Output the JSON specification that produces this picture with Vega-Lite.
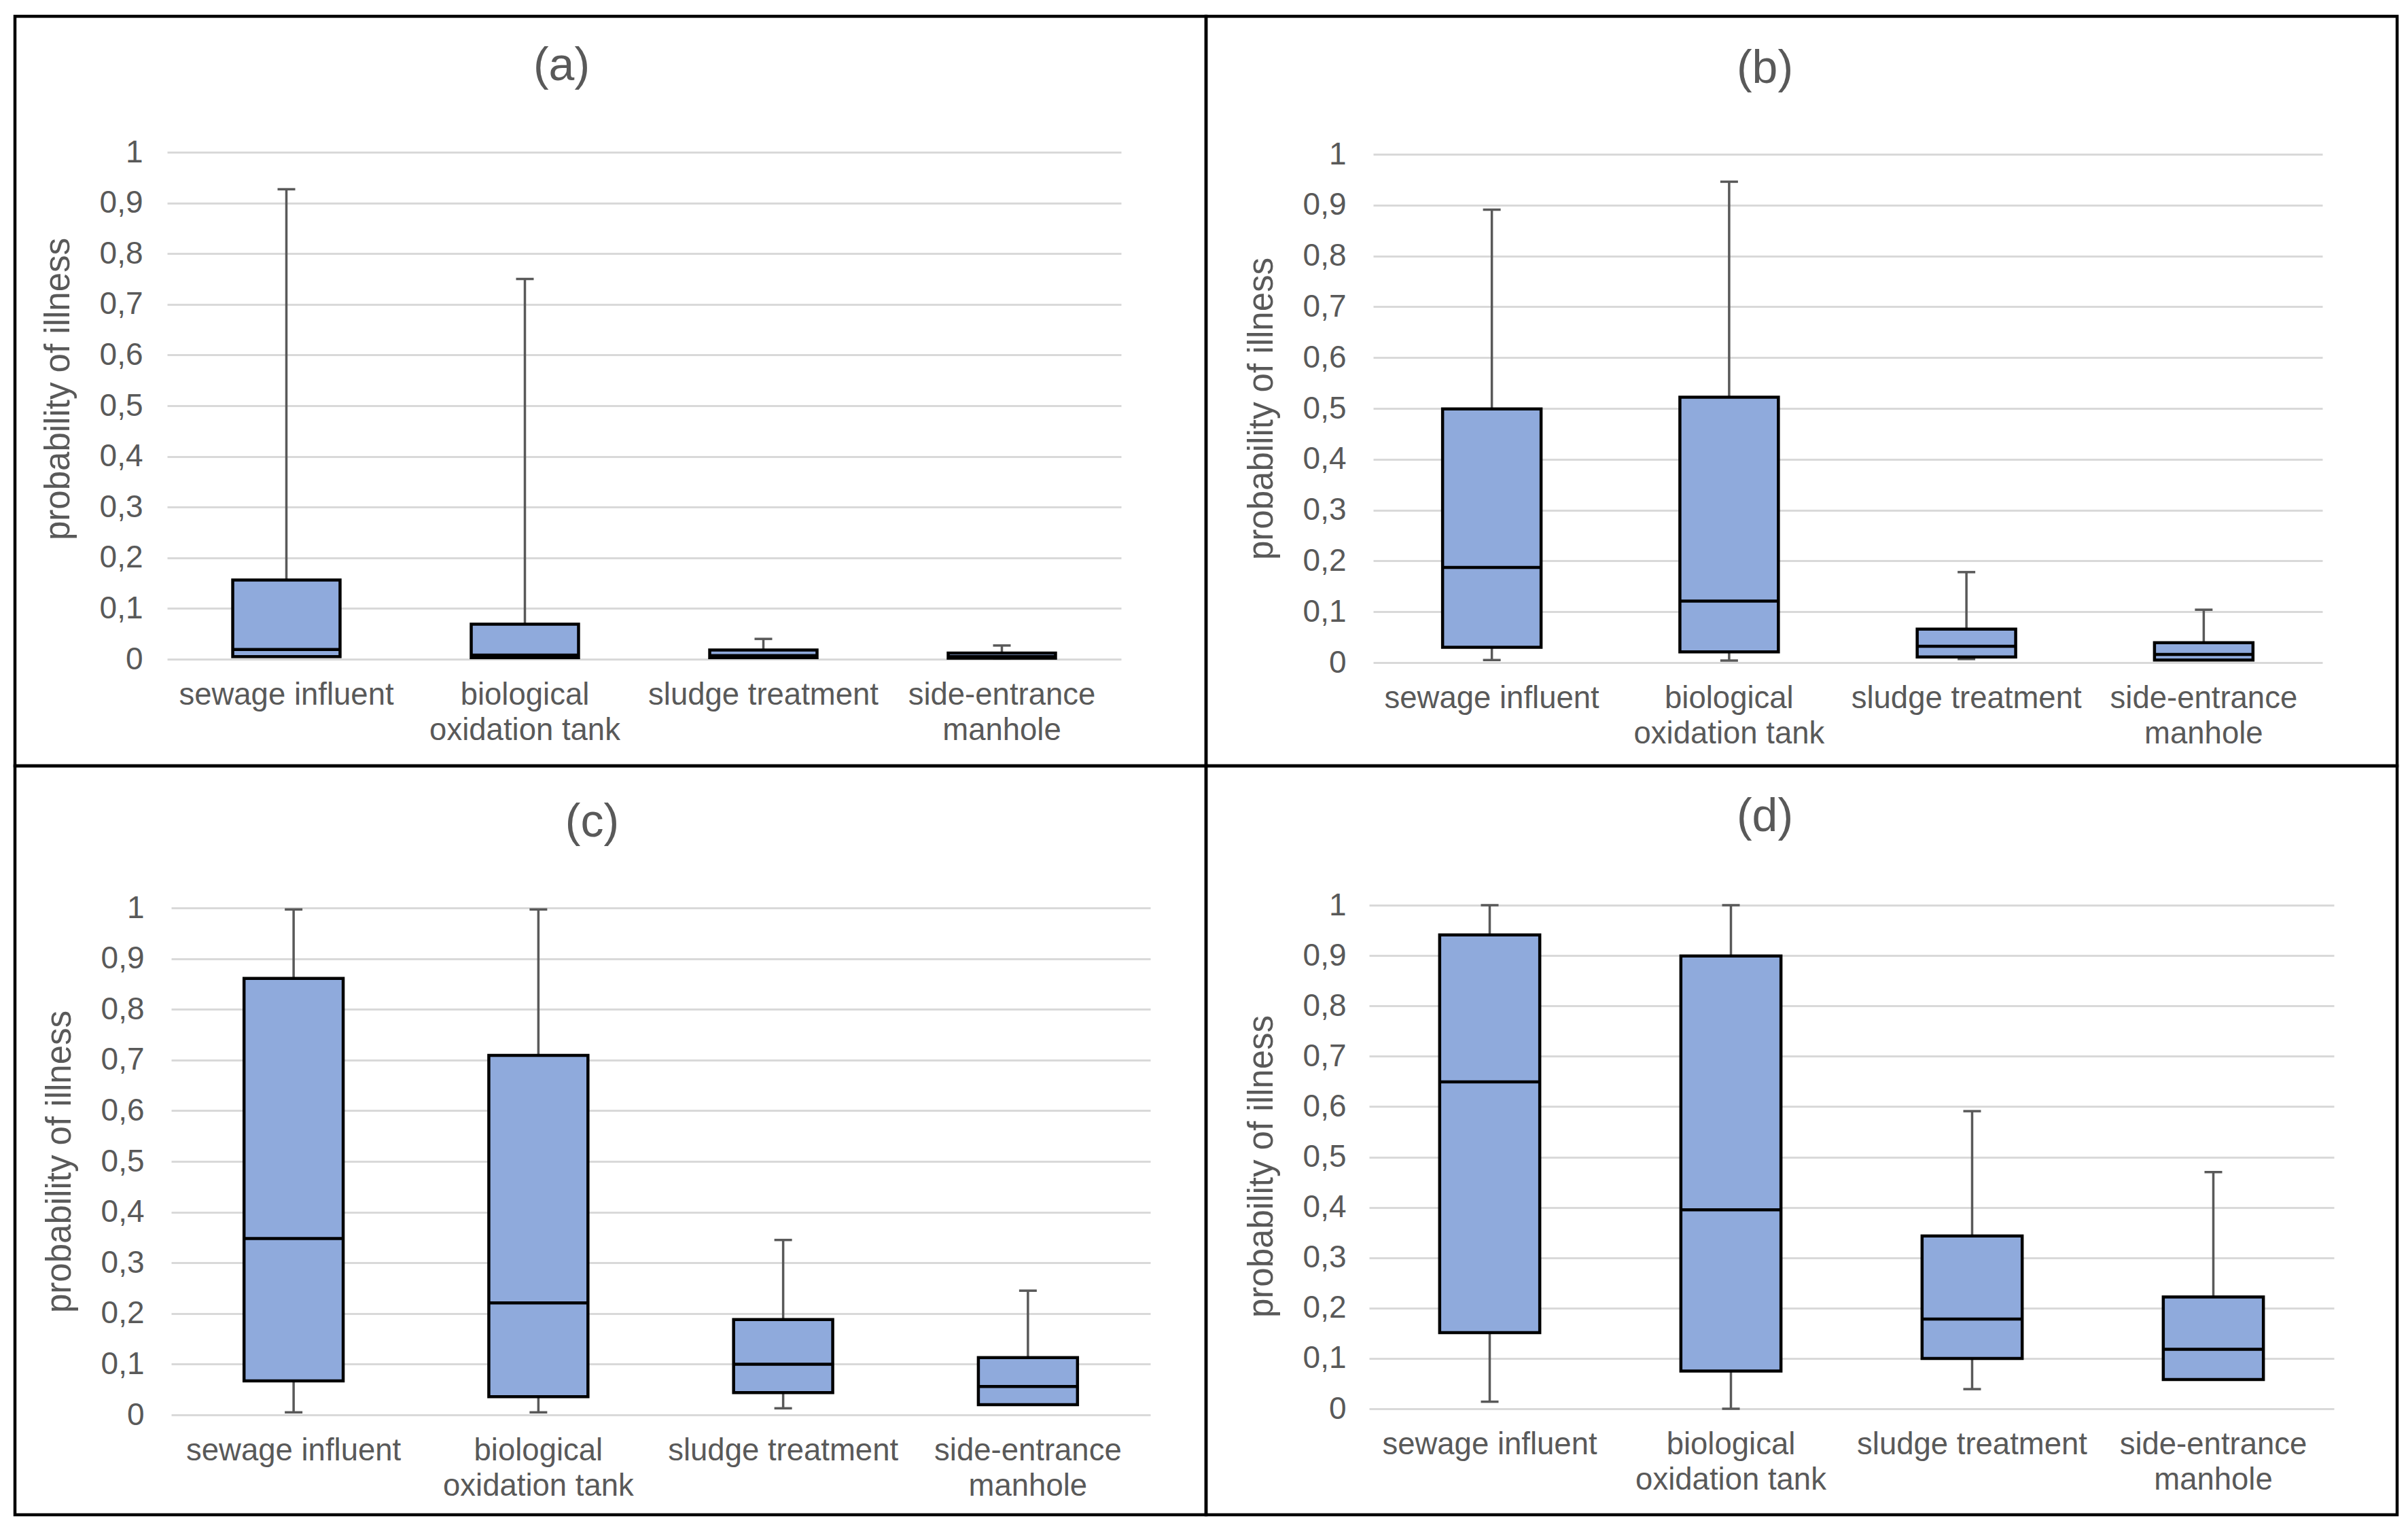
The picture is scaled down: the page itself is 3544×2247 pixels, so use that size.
{
  "$schema": "https://vega.github.io/schema/vega-lite/v6.json",
  "background": "white",
  "padding": {"left": 19, "top": 21, "right": 19, "bottom": 21},
  "config": {
    "font": "Liberation Sans",
    "view": {"stroke": "black", "strokeWidth": 4.5},
    "axisY": {"domain": false, "ticks": false, "tickSize": 0, "grid": true, "gridColor": "#d9d9d9", "gridWidth": 3, "labelFontSize": 46, "labelColor": "#595959", "labelPadding": 40, "labelFont": "Liberation Sans", "titleFontSize": 51, "titleColor": "#595959", "titleFontWeight": "normal", "titleFont": "Liberation Sans", "titlePadding": 34},
    "axisX": {"domain": false, "ticks": false, "tickSize": 0, "grid": false, "labelFontSize": 45.5, "labelColor": "#595959", "labelFont": "Liberation Sans", "labelPadding": 30, "labelAngle": 0, "labelLimit": 0, "labelLineHeight": 52, "labelOverlap": false},
    "title": {"fontSize": 68, "color": "#595959", "fontWeight": "normal", "font": "Liberation Sans", "frame": "group", "baseline": "middle"}
  },
  "datasets": {
    "stats": [
      {"panel": "a", "location": "sewage influent", "min": 0.005, "q1": 0.005, "median": 0.019, "q3": 0.156, "max": 0.927},
      {"panel": "a", "location": "biological oxidation tank", "min": 0.003, "q1": 0.003, "median": 0.008, "q3": 0.069, "max": 0.75},
      {"panel": "a", "location": "sludge treatment", "min": 0.003, "q1": 0.003, "median": 0.007, "q3": 0.018, "max": 0.04},
      {"panel": "a", "location": "side-entrance manhole", "min": 0.002, "q1": 0.002, "median": 0.005, "q3": 0.012, "max": 0.027},
      {"panel": "b", "location": "sewage influent", "min": 0.005, "q1": 0.03, "median": 0.187, "q3": 0.499, "max": 0.891},
      {"panel": "b", "location": "biological oxidation tank", "min": 0.004, "q1": 0.021, "median": 0.121, "q3": 0.522, "max": 0.946},
      {"panel": "b", "location": "sludge treatment", "min": 0.007, "q1": 0.011, "median": 0.032, "q3": 0.066, "max": 0.178},
      {"panel": "b", "location": "side-entrance manhole", "min": 0.005, "q1": 0.005, "median": 0.016, "q3": 0.039, "max": 0.104},
      {"panel": "c", "location": "sewage influent", "min": 0.005, "q1": 0.067, "median": 0.348, "q3": 0.861, "max": 0.997},
      {"panel": "c", "location": "biological oxidation tank", "min": 0.005, "q1": 0.036, "median": 0.221, "q3": 0.709, "max": 0.997},
      {"panel": "c", "location": "sludge treatment", "min": 0.013, "q1": 0.044, "median": 0.1, "q3": 0.188, "max": 0.345},
      {"panel": "c", "location": "side-entrance manhole", "min": 0.02, "q1": 0.02, "median": 0.056, "q3": 0.113, "max": 0.245},
      {"panel": "d", "location": "sewage influent", "min": 0.014, "q1": 0.151, "median": 0.649, "q3": 0.941, "max": 1.0},
      {"panel": "d", "location": "biological oxidation tank", "min": 0.0, "q1": 0.075, "median": 0.395, "q3": 0.899, "max": 1.0},
      {"panel": "d", "location": "sludge treatment", "min": 0.039, "q1": 0.1, "median": 0.178, "q3": 0.343, "max": 0.591},
      {"panel": "d", "location": "side-entrance manhole", "min": 0.058, "q1": 0.058, "median": 0.118, "q3": 0.222, "max": 0.47}
    ]
  },
  "columns": 2,
  "spacing": 0,
  "bounds": "flush",
  "concat": [
    {
      "width": 1753, "height": 1103,
      "title": {"text": "(a)", "dx": -72, "offset": -108},
      "data": {"name": "stats"},
      "transform": [{"filter": "datum.panel == 'a'"}],
      "encoding": {
        "x": {"field": "location", "type": "nominal", "sort": null, "title": null,
          "scale": {"domain": ["sewage influent", "biological oxidation tank", "sludge treatment", "side-entrance manhole"], "range": [224, 1628], "paddingInner": 0.55, "paddingOuter": 0.275},
          "axis": {"offset": -157, "labelExpr": "datum.value == 'biological oxidation tank' ? ['biological', 'oxidation tank'] : datum.value == 'side-entrance manhole' ? ['side-entrance', 'manhole'] : datum.value"}}
      },
      "layer": [
        {"mark": {"type": "rule", "color": "#595959", "strokeWidth": 3.5},
         "encoding": {"y": {"field": "q3", "type": "quantitative", "title": "probability of illness", "scale": {"domain": [0, 1], "range": [946, 200], "nice": false, "zero": false},
           "axis": {"offset": -228, "titleY": 548, "values": [0, 0.1, 0.2, 0.3, 0.4, 0.5, 0.6, 0.7, 0.8, 0.9, 1], "labelExpr": "replace(format(datum.value, '~g'), '.', ',')"}},
           "y2": {"field": "max"}}},
        {"mark": {"type": "rule", "color": "#595959", "strokeWidth": 3.5},
         "encoding": {"y": {"field": "min", "type": "quantitative", "title": "probability of illness", "scale": {"domain": [0, 1], "range": [946, 200], "nice": false, "zero": false}}, "y2": {"field": "q1"}}},
        {"mark": {"type": "tick", "orient": "horizontal", "color": "#595959", "size": 26, "thickness": 3.5, "opacity": 1},
         "encoding": {"y": {"field": "max", "type": "quantitative", "title": "probability of illness", "scale": {"domain": [0, 1], "range": [946, 200], "nice": false, "zero": false}}}},
        {"mark": {"type": "tick", "orient": "horizontal", "color": "#595959", "size": 26, "thickness": 3.5, "opacity": 1},
         "encoding": {"y": {"field": "min", "type": "quantitative", "title": "probability of illness", "scale": {"domain": [0, 1], "range": [946, 200], "nice": false, "zero": false}}}},
        {"mark": {"type": "bar", "fill": "#8FAADC", "stroke": "black", "strokeWidth": 4.5},
         "encoding": {"y": {"field": "q1", "type": "quantitative", "title": "probability of illness", "scale": {"domain": [0, 1], "range": [946, 200], "nice": false, "zero": false}}, "y2": {"field": "q3"}}},
        {"mark": {"type": "tick", "orient": "horizontal", "color": "black", "size": 158, "thickness": 4.5, "opacity": 1},
         "encoding": {"y": {"field": "median", "type": "quantitative", "title": "probability of illness", "scale": {"domain": [0, 1], "range": [946, 200], "nice": false, "zero": false}}}}
      ]
    },
    {
      "width": 1753, "height": 1103,
      "title": {"text": "(b)", "dx": -54, "offset": -112},
      "data": {"name": "stats"},
      "transform": [{"filter": "datum.panel == 'b'"}],
      "encoding": {
        "x": {"field": "location", "type": "nominal", "sort": null, "title": null,
          "scale": {"domain": ["sewage influent", "biological oxidation tank", "sludge treatment", "side-entrance manhole"], "range": [246, 1643], "paddingInner": 0.585, "paddingOuter": 0.2925},
          "axis": {"offset": -152, "labelExpr": "datum.value == 'biological oxidation tank' ? ['biological', 'oxidation tank'] : datum.value == 'side-entrance manhole' ? ['side-entrance', 'manhole'] : datum.value"}}
      },
      "layer": [
        {"mark": {"type": "rule", "color": "#595959", "strokeWidth": 3.5},
         "encoding": {"y": {"field": "q3", "type": "quantitative", "title": "probability of illness", "scale": {"domain": [0, 1], "range": [951, 203], "nice": false, "zero": false},
           "axis": {"offset": -246, "values": [0, 0.1, 0.2, 0.3, 0.4, 0.5, 0.6, 0.7, 0.8, 0.9, 1], "labelExpr": "replace(format(datum.value, '~g'), '.', ',')"}},
           "y2": {"field": "max"}}},
        {"mark": {"type": "rule", "color": "#595959", "strokeWidth": 3.5},
         "encoding": {"y": {"field": "min", "type": "quantitative", "title": "probability of illness", "scale": {"domain": [0, 1], "range": [951, 203], "nice": false, "zero": false}}, "y2": {"field": "q1"}}},
        {"mark": {"type": "tick", "orient": "horizontal", "color": "#595959", "size": 26, "thickness": 3.5, "opacity": 1},
         "encoding": {"y": {"field": "max", "type": "quantitative", "title": "probability of illness", "scale": {"domain": [0, 1], "range": [951, 203], "nice": false, "zero": false}}}},
        {"mark": {"type": "tick", "orient": "horizontal", "color": "#595959", "size": 26, "thickness": 3.5, "opacity": 1},
         "encoding": {"y": {"field": "min", "type": "quantitative", "title": "probability of illness", "scale": {"domain": [0, 1], "range": [951, 203], "nice": false, "zero": false}}}},
        {"mark": {"type": "bar", "fill": "#8FAADC", "stroke": "black", "strokeWidth": 4.5},
         "encoding": {"y": {"field": "q1", "type": "quantitative", "title": "probability of illness", "scale": {"domain": [0, 1], "range": [951, 203], "nice": false, "zero": false}}, "y2": {"field": "q3"}}},
        {"mark": {"type": "tick", "orient": "horizontal", "color": "black", "size": 145, "thickness": 4.5, "opacity": 1},
         "encoding": {"y": {"field": "median", "type": "quantitative", "title": "probability of illness", "scale": {"domain": [0, 1], "range": [951, 203], "nice": false, "zero": false}}}}
      ]
    },
    {
      "width": 1753, "height": 1102,
      "title": {"text": "(c)", "dx": -27, "offset": -118},
      "data": {"name": "stats"},
      "transform": [{"filter": "datum.panel == 'c'"}],
      "encoding": {
        "x": {"field": "location", "type": "nominal", "sort": null, "title": null,
          "scale": {"domain": ["sewage influent", "biological oxidation tank", "sludge treatment", "side-entrance manhole"], "range": [230, 1671], "paddingInner": 0.595, "paddingOuter": 0.2975},
          "axis": {"offset": -147, "labelExpr": "datum.value == 'biological oxidation tank' ? ['biological', 'oxidation tank'] : datum.value == 'side-entrance manhole' ? ['side-entrance', 'manhole'] : datum.value"}}
      },
      "layer": [
        {"mark": {"type": "rule", "color": "#595959", "strokeWidth": 3.5},
         "encoding": {"y": {"field": "q3", "type": "quantitative", "title": "probability of illness", "scale": {"domain": [0, 1], "range": [955, 209], "nice": false, "zero": false},
           "axis": {"offset": -230, "values": [0, 0.1, 0.2, 0.3, 0.4, 0.5, 0.6, 0.7, 0.8, 0.9, 1], "labelExpr": "replace(format(datum.value, '~g'), '.', ',')"}},
           "y2": {"field": "max"}}},
        {"mark": {"type": "rule", "color": "#595959", "strokeWidth": 3.5},
         "encoding": {"y": {"field": "min", "type": "quantitative", "title": "probability of illness", "scale": {"domain": [0, 1], "range": [955, 209], "nice": false, "zero": false}}, "y2": {"field": "q1"}}},
        {"mark": {"type": "tick", "orient": "horizontal", "color": "#595959", "size": 26, "thickness": 3.5, "opacity": 1},
         "encoding": {"y": {"field": "max", "type": "quantitative", "title": "probability of illness", "scale": {"domain": [0, 1], "range": [955, 209], "nice": false, "zero": false}}}},
        {"mark": {"type": "tick", "orient": "horizontal", "color": "#595959", "size": 26, "thickness": 3.5, "opacity": 1},
         "encoding": {"y": {"field": "min", "type": "quantitative", "title": "probability of illness", "scale": {"domain": [0, 1], "range": [955, 209], "nice": false, "zero": false}}}},
        {"mark": {"type": "bar", "fill": "#8FAADC", "stroke": "black", "strokeWidth": 4.5},
         "encoding": {"y": {"field": "q1", "type": "quantitative", "title": "probability of illness", "scale": {"domain": [0, 1], "range": [955, 209], "nice": false, "zero": false}}, "y2": {"field": "q3"}}},
        {"mark": {"type": "tick", "orient": "horizontal", "color": "black", "size": 146, "thickness": 4.5, "opacity": 1},
         "encoding": {"y": {"field": "median", "type": "quantitative", "title": "probability of illness", "scale": {"domain": [0, 1], "range": [955, 209], "nice": false, "zero": false}}}}
      ]
    },
    {
      "width": 1753, "height": 1102,
      "title": {"text": "(d)", "dx": -54, "offset": -110},
      "data": {"name": "stats"},
      "transform": [{"filter": "datum.panel == 'd'"}],
      "encoding": {
        "x": {"field": "location", "type": "nominal", "sort": null, "title": null,
          "scale": {"domain": ["sewage influent", "biological oxidation tank", "sludge treatment", "side-entrance manhole"], "range": [240, 1660], "paddingInner": 0.585, "paddingOuter": 0.2925},
          "axis": {"offset": -156, "labelExpr": "datum.value == 'biological oxidation tank' ? ['biological', 'oxidation tank'] : datum.value == 'side-entrance manhole' ? ['side-entrance', 'manhole'] : datum.value"}}
      },
      "layer": [
        {"mark": {"type": "rule", "color": "#595959", "strokeWidth": 3.5},
         "encoding": {"y": {"field": "q3", "type": "quantitative", "title": "probability of illness", "scale": {"domain": [0, 1], "range": [946, 205], "nice": false, "zero": false},
           "axis": {"offset": -246, "titleY": 589, "values": [0, 0.1, 0.2, 0.3, 0.4, 0.5, 0.6, 0.7, 0.8, 0.9, 1], "labelExpr": "replace(format(datum.value, '~g'), '.', ',')"}},
           "y2": {"field": "max"}}},
        {"mark": {"type": "rule", "color": "#595959", "strokeWidth": 3.5},
         "encoding": {"y": {"field": "min", "type": "quantitative", "title": "probability of illness", "scale": {"domain": [0, 1], "range": [946, 205], "nice": false, "zero": false}}, "y2": {"field": "q1"}}},
        {"mark": {"type": "tick", "orient": "horizontal", "color": "#595959", "size": 26, "thickness": 3.5, "opacity": 1},
         "encoding": {"y": {"field": "max", "type": "quantitative", "title": "probability of illness", "scale": {"domain": [0, 1], "range": [946, 205], "nice": false, "zero": false}}}},
        {"mark": {"type": "tick", "orient": "horizontal", "color": "#595959", "size": 26, "thickness": 3.5, "opacity": 1},
         "encoding": {"y": {"field": "min", "type": "quantitative", "title": "probability of illness", "scale": {"domain": [0, 1], "range": [946, 205], "nice": false, "zero": false}}}},
        {"mark": {"type": "bar", "fill": "#8FAADC", "stroke": "black", "strokeWidth": 4.5},
         "encoding": {"y": {"field": "q1", "type": "quantitative", "title": "probability of illness", "scale": {"domain": [0, 1], "range": [946, 205], "nice": false, "zero": false}}, "y2": {"field": "q3"}}},
        {"mark": {"type": "tick", "orient": "horizontal", "color": "black", "size": 147, "thickness": 4.5, "opacity": 1},
         "encoding": {"y": {"field": "median", "type": "quantitative", "title": "probability of illness", "scale": {"domain": [0, 1], "range": [946, 205], "nice": false, "zero": false}}}}
      ]
    }
  ]
}
